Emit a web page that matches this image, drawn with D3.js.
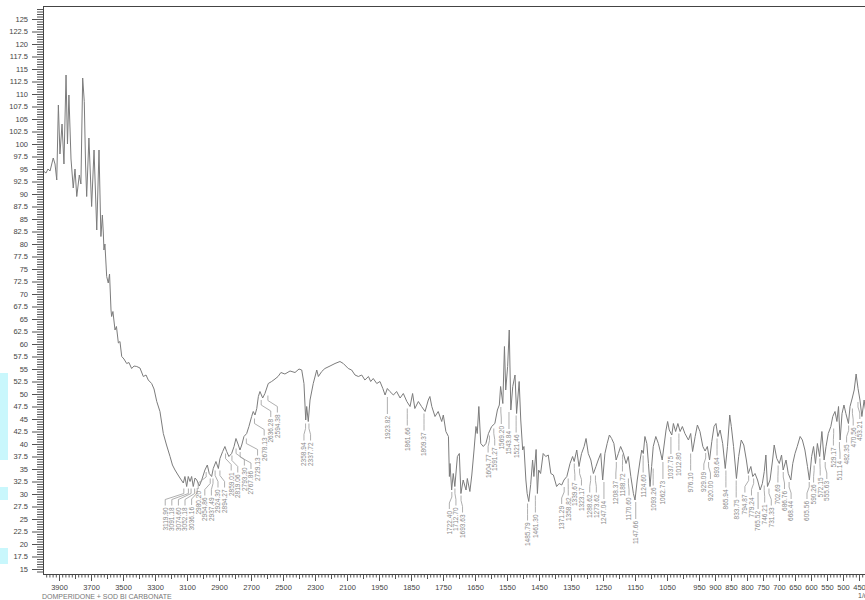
<!DOCTYPE html>
<html>
<head>
<meta charset="utf-8">
<script src="https://cdn.jsdelivr.net/npm/d3@7"></script>
<style>
  body { margin: 0; background: #fff; }
  svg { display: block; }
  text { font-family: "Liberation Sans", Arial, sans-serif; }
</style>
</head>
<body>
<svg id="chart" width="865" height="600"></svg>
<script>
// wavenumber (1/cm) and %T
var wavenumber = [3994,3981,3969,3956,3936,3925,3914,3904,3894,3881,3869,3856,3847,3838,3825,3811,3800,3789,3773,3763,
  3752,3742,3734,3727,3713,3696,3681,3664,3650,3638,3629,3623,3619,3613,3602,3592,3584,3575,3571,3563,
  3550,3541,3529,3519,3508,3494,3477,3463,3446,3431,3414,3394,3373,3356,3342,3321,3306,3289,3269,3248,
  3228,3206,3191,3175,3156,3144,3123,3113,3102,3092,3081,3071,3061,3050,3039,3023,3008,2988,2973,2961,
  2946,2936,2919,2904,2894,2877,2863,2852,2838,2821,2806,2794,2779,2769,2758,2744,2727,2713,2696,2686,
  2675,2664,2654,2644,2627,2613,2592,2571,2550,2531,2513,2488,2456,2425,2400,2383,2369,2358,2352,2342,
  2331,2311,2289,2279,2258,2238,2206,2175,2144,2123,2092,2071,2050,2029,2008,
  1994,1983,1976,1968,1957,1947,1938,1931,1924,1916,1905,1895,1884,1874,1863,1853,1845,1838,1827,1817,
  1806,1796,1791,1785,1775,1765,1754,1749,1741,1733,1730,1728,1723,1718,1713,1705,1699,1694,1687,1678,
  1674,1666,1660,1653,1647,1643,1638,1632,1624,1616,1608,1598,1588,1580,1574,1570,1563,1558,1554,1548,
  1543,1538,1532,1525,1520,1512,1507,1501,1497,1491,1487,1482,1476,1470,1466,1459,1455,1451,1445,1437,
  1429,1421,1413,1405,1395,1387,1379,1372,1363,1353,1345,1340,1332,1325,1317,1309,1303,1296,1288,1280,
  1272,1265,1257,1251,1244,1237,1230,1223,1216,1209,1202,1195,1187,1178,1171,1163,1155,1150,1143,1134,
  1129,1124,1119,1113,1108,1103,1098,1093,1085,1077,1072,1065,1059,1053,1048,1043,1035,1030,1023,1016,
  1009,1002,994,983,976,970,962,955,947,938,931,924,917,910,903,897,891,884,876,868,
  861,854,849,842,833,826,818,810,802,796,788,782,775,767,759,752,746,741,736,728,
  720,715,707,699,692,687,678,671,663,657,650,643,634,627,619,611,605,598,592,586,
  580,573,566,559,553,546,538,532,525,519,514,509,503,497,491,483,478,471,465,459,
  453,447,441,434,428,416,403];
var transmittance = [94.5,94.2,95.0,94.6,97.2,96.0,92.8,107.8,98.0,104.0,96.0,113.8,100.0,109.8,97.0,91.2,95.0,89.5,93.8,92.0,
  113.2,108.5,96.0,89.5,101.2,87.5,98.8,82.8,98.8,81.5,85.8,82.2,78.8,80.0,73.5,72.2,74.0,66.8,65.5,66.5,
  62.8,63.5,60.2,60.5,57.5,57.0,56.1,56.3,55.1,55.6,55.5,55.2,53.5,53.8,52.8,52.1,51.0,48.5,46.5,42.1,
  39.8,37.5,35.8,34.8,33.8,33.2,32.2,33.5,31.5,33.5,32.5,33.5,31.5,33.2,32.8,31.6,32.8,34.8,35.8,34.1,
  33.5,35.1,36.5,35.1,37.1,38.5,39.5,38.5,37.5,38.1,39.5,41.1,39.8,38.8,39.8,41.5,42.1,43.5,45.5,46.5,
  45.8,47.1,49.5,50.5,49.2,50.1,52.1,52.5,53.0,53.5,54.3,54.0,54.6,54.3,55.0,54.8,52.1,44.8,47.5,44.5,
  48.8,52.1,54.8,53.5,54.5,55.1,55.6,56.1,56.5,56.1,55.1,54.8,53.8,53.5,53.8,
  52.8,53.5,52.5,53.1,52.1,52.5,51.1,49.8,51.1,50.5,49.8,50.5,49.2,50.1,48.5,47.5,50.1,47.1,48.5,47.5,
  46.5,48.8,49.5,47.5,45.5,46.5,44.5,45.8,42.5,41.5,33.5,36.1,30.8,34.1,31.5,37.5,38.1,30.1,32.8,30.8,
  33.1,30.5,33.8,38.8,43.5,42.1,47.5,40.1,39.5,40.1,42.1,43.5,44.1,46.8,47.8,51.5,48.1,59.5,50.8,55.5,
  62.8,46.8,51.5,53.8,46.1,52.5,44.8,38.8,39.5,32.8,30.1,28.5,31.9,36.8,33.5,38.9,30.1,34.8,34.1,38.1,
  37.5,37.8,34.1,33.8,31.5,32.1,31.8,32.8,33.5,36.1,37.5,36.5,38.8,35.5,38.1,39.5,41.1,38.1,36.8,34.1,
  35.5,36.8,38.1,32.8,38.1,40.1,41.8,41.1,40.1,36.8,38.1,39.5,38.3,36.1,37.5,33.5,30.1,28.8,32.8,36.8,
  38.8,38.1,41.5,40.1,36.1,31.5,35.5,39.5,41.5,40.1,38.8,36.8,39.8,42.8,44.5,42.8,41.8,44.1,42.5,44.1,
  42.5,43.5,42.1,40.8,42.1,38.5,41.5,43.8,42.5,39.5,38.6,39.5,36.8,40.5,43.5,44.1,41.5,42.8,40.1,35.1,
  39.5,45.8,43.5,39.5,33.1,37.5,40.8,39.8,36.8,34.1,35.5,33.5,34.1,32.8,30.8,32.1,34.5,37.8,31.5,32.8,
  36.8,39.8,37.1,36.1,37.8,34.8,36.8,34.1,32.8,36.1,38.1,39.5,41.5,40.8,38.8,35.5,32.8,37.5,39.5,36.1,
  40.1,37.5,42.5,36.8,39.5,42.1,43.5,45.5,46.5,44.5,47.5,40.8,46.1,47.8,46.1,44.1,47.5,49.2,50.8,54.0,
  51.1,48.8,45.5,48.8,46.0,44.0,45.0];

var peakWavenumbers = [3119.90,3091.18,3074.60,3052.18,3036.16,2980.20,2954.86,2937.49,2924.30,2894.27,
  2859.01,2819.06,2793.30,2767.86,2729.13,2678.13,2636.28,2594.38,2358.94,2337.72,
  1923.82,1861.66,1809.37,1722.40,1712.70,1693.63,1604.77,1591.27,1569.20,1543.84,1521.46,
  1485.79,1461.30,1371.29,1358.82,1339.67,1323.17,1288.62,1273.62,1247.04,1208.37,1188.72,1170.60,
  1147.66,1124.60,1093.26,1062.73,1037.75,1012.80,976.10,929.09,920.00,893.64,865.94,833.75,
  794.87,779.24,765.52,746.21,731.33,702.69,686.76,668.44,605.56,590.26,572.15,555.63,
  529.17,511.14,482.35,470.56,453.21];

var xTickValues = [3900,3700,3500,3300,3100,2900,2700,2500,2300,2100,1950,1850,1750,1650,1550,1450,1350,1250,1150,1050,
  950,900,850,800,750,700,650,600,550,500,450];
var yTickValues = d3.range(15, 125.1, 2.5);
var caption = "DOMPERIDONE + SOD BI CARBONATE";
var xUnit = "1/cm";

var svg = d3.select("#chart");

// light cyan strips on the left edge of the scan
[[373, 460], [487, 500], [548, 564]].forEach(function(s) {
  svg.append("rect").attr("x", 0).attr("y", s[0]).attr("width", 8).attr("height", s[1] - s[0]).attr("fill", "#c9f7fc");
});

var x = d3.scaleLinear().domain([4000, 2000, 400]).range([43, 363, 875]);
var y = d3.scaleLinear().domain([14, 127.5]).range([574, 6.5]);

//frame
svg.append("line").attr("x1", 43).attr("x2", 875).attr("y1", 6.5).attr("y2", 6.5).attr("stroke", "#444");

// Y axis
var yMinor = d3.range(14.5, 127.5, 0.5).filter(function(v) { return Math.abs(v / 2.5 - Math.round(v / 2.5)) > 0.01; });
svg.append("g").attr("transform", "translate(43,0)")
  .call(d3.axisLeft(y).tickValues(yMinor).tickSize(6).tickSizeOuter(0).tickFormat(""));
var yAxis = svg.append("g").attr("transform", "translate(43,0)")
  .call(d3.axisLeft(y).tickValues(yTickValues).tickSize(11).tickSizeOuter(0).tickPadding(4).tickFormat(d3.format("~g")));

// X axis
var xMinor = d3.range(3980, 2000, -20).concat(d3.range(1990, 400, -10));
var xMid = d3.range(3800, 2000, -200).concat(d3.range(2000, 950, -100));
svg.append("g").attr("transform", "translate(0,574)")
  .call(d3.axisBottom(x).tickValues(xMinor).tickSize(3.5).tickSizeOuter(0).tickFormat(""));
svg.append("g").attr("transform", "translate(0,574)")
  .call(d3.axisBottom(x).tickValues(xMid).tickSize(5).tickSizeOuter(0).tickFormat(""));
var xAxis = svg.append("g").attr("transform", "translate(0,574)")
  .call(d3.axisBottom(x).tickValues(xTickValues).tickSize(7).tickSizeOuter(0).tickPadding(4).tickFormat(d3.format("d")));

svg.selectAll(".domain").attr("stroke", "#444");
svg.selectAll(".tick line").attr("stroke", "#555");
svg.selectAll(".tick text").attr("font-size", "7.5px").attr("fill", "#444").attr("font-family", "Liberation Sans, Arial, sans-serif");

svg.append("text").attr("x", 42).attr("y", 599).attr("font-size", "7px").attr("fill", "#777").text(caption);
svg.append("text").attr("x", 858).attr("y", 598).attr("font-size", "7px").attr("fill", "#555").text(xUnit);

// spectrum
var pts = wavenumber.map(function(w, i) { return [w, transmittance[i]]; });
var line = d3.line().x(function(d) { return x(d[0]); }).y(function(d) { return y(d[1]); });
svg.append("path").datum(pts).attr("d", line).attr("fill", "none").attr("stroke", "#7c7c7c").attr("stroke-width", 1);

// peak labels
function tAt(w) {
  var px = x(w), best = null;
  for (var i = 0; i < wavenumber.length - 1; i++) {
    if (wavenumber[i] >= w && wavenumber[i + 1] <= w) {
      var f = (wavenumber[i] - w) / (wavenumber[i] - wavenumber[i + 1]);
      best = transmittance[i] + f * (transmittance[i + 1] - transmittance[i]);
    }
  }
  wavenumber.forEach(function(v, i) {
    if (Math.abs(x(v) - px) <= 3 && transmittance[i] < best) best = transmittance[i];
  });
  return best;
}

var peaks = peakWavenumbers.map(function(w) {
  return { w: w, px: x(w), py: y(tAt(w)), lx: x(w) };
});
// spread labels apart
var gap = 6.6;
for (var k = 0; k < 200; k++) {
  for (var i = 0; i < peaks.length - 1; i++) {
    var d = peaks[i + 1].lx - peaks[i].lx;
    if (d < gap) {
      var m = (gap - d) / 2;
      peaks[i].lx -= m; peaks[i + 1].lx += m;
    }
  }
}

var pg = svg.append("g");
peaks.forEach(function(p) {
  pg.append("polyline")
    .attr("points", [[p.px, p.py + 2], [p.px, p.py + 7], [p.lx, p.py + 13], [p.lx, p.py + 19]].map(function(a) { return a.join(","); }).join(" "))
    .attr("fill", "none").attr("stroke", "#9a9a9a").attr("stroke-width", 0.8);
  pg.append("text")
    .attr("transform", "translate(" + (p.lx + 2.4) + "," + (p.py + 21) + ") rotate(-90)")
    .attr("text-anchor", "end")
    .attr("font-size", "6.5px").attr("fill", "#8a8a8a")
    .text(d3.format(".2f")(p.w));
});
</script>
</body>
</html>
